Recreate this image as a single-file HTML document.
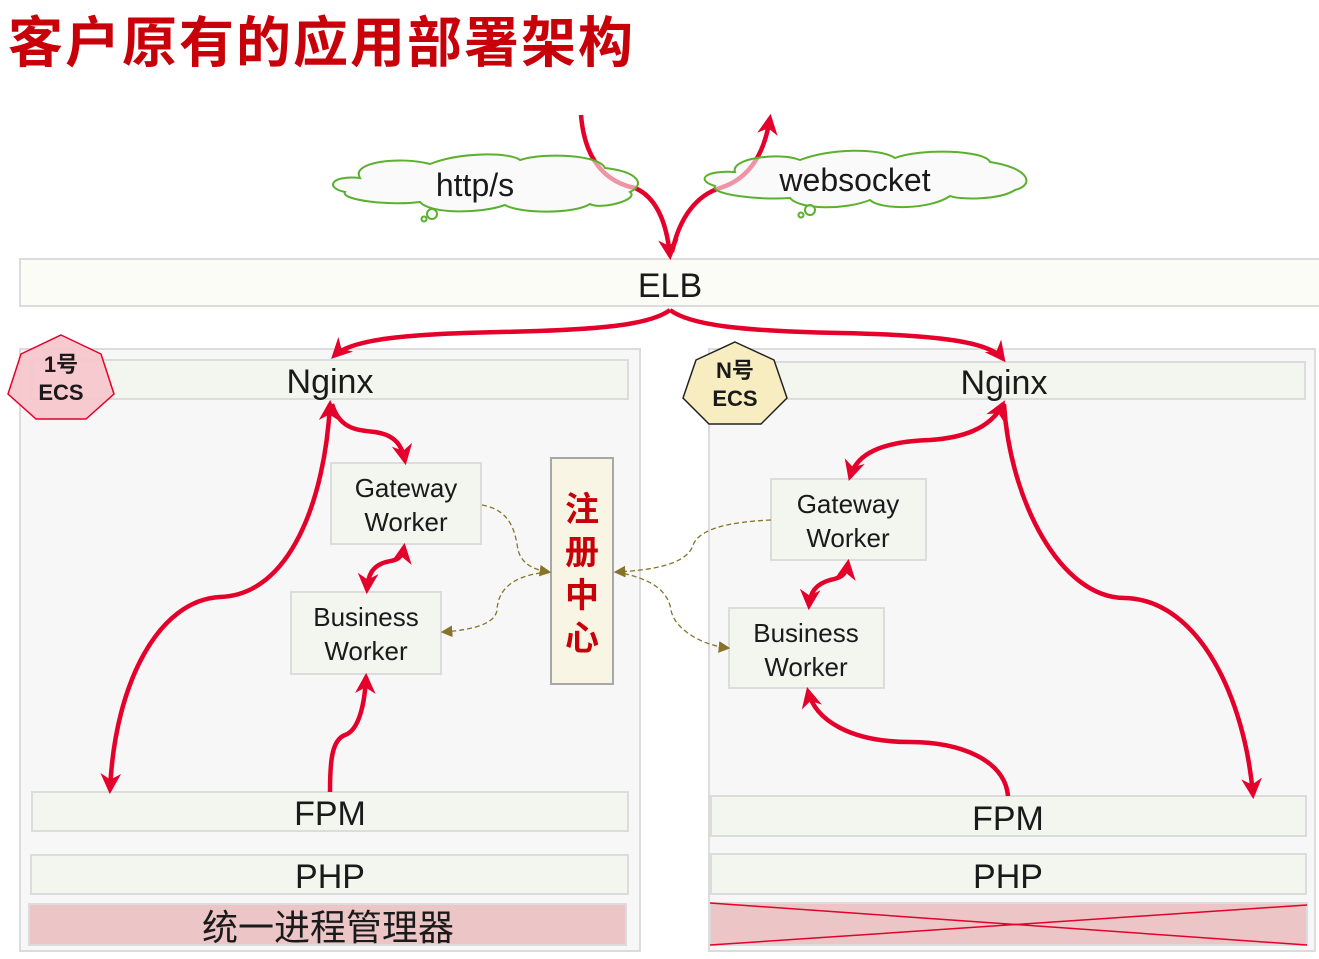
<!DOCTYPE html>
<html><head><meta charset="utf-8"><style>
html,body{margin:0;padding:0;background:#fff;}
svg{display:block;}
text{font-family:"Liberation Sans","Noto Sans CJK SC",sans-serif;fill:#1a1a1a;}
</style></head><body>
<svg width="1319" height="959" viewBox="0 0 1319 959" xmlns="http://www.w3.org/2000/svg">
<defs>
<marker id="ar" viewBox="0 0 10 10" refX="8" refY="5" markerWidth="4.6" markerHeight="4.6" orient="auto-start-reverse" markerUnits="strokeWidth">
<path d="M0,0 L10,5 L0,10 L3,5 Z" fill="#e4002b"/></marker>
<marker id="ad" viewBox="0 0 10 10" refX="8" refY="5" markerWidth="9" markerHeight="9" orient="auto-start-reverse" markerUnits="strokeWidth">
<path d="M0,0 L10,5 L0,10 Z" fill="#85742a"/></marker>
</defs>
<text x="8" y="62" font-size="55" font-weight="bold" letter-spacing="2" style="fill:#c8000a">客户原有的应用部署架构</text>

<rect x="20" y="259" width="1310" height="47" fill="#fafcf5" stroke="#dcdcdc" stroke-width="2"/>
<text x="670" y="297" font-size="34" text-anchor="middle">ELB</text>

<rect x="20" y="349" width="620" height="602" fill="#f7f7f7" stroke="#dcdcdc" stroke-width="2"/>
<rect x="32" y="360" width="596" height="39" fill="#f3f5ef" stroke="#dcdcdc" stroke-width="2"/>
<text x="330" y="393" font-size="34" text-anchor="middle">Nginx</text>
<rect x="331" y="463" width="150" height="81" fill="#f3f5ef" stroke="#dcdcdc" stroke-width="2"/>
<text x="406" y="497" font-size="26" text-anchor="middle">Gateway</text>
<text x="406" y="531" font-size="26" text-anchor="middle">Worker</text>
<rect x="291" y="592" width="150" height="82" fill="#f3f5ef" stroke="#dcdcdc" stroke-width="2"/>
<text x="366" y="626" font-size="26" text-anchor="middle">Business</text>
<text x="366" y="660" font-size="26" text-anchor="middle">Worker</text>
<rect x="32" y="792" width="596" height="39" fill="#f3f5ef" stroke="#dcdcdc" stroke-width="2"/>
<text x="330" y="825" font-size="34" text-anchor="middle">FPM</text>
<rect x="31" y="855" width="597" height="39" fill="#f3f5ef" stroke="#dcdcdc" stroke-width="2"/>
<text x="330" y="888" font-size="34" text-anchor="middle">PHP</text>
<rect x="29" y="904" width="597" height="41" fill="#ecc5c6" stroke="#dcdcdc" stroke-width="2"/>
<text x="328" y="940" font-size="36" text-anchor="middle">统一进程管理器</text>

<rect x="551" y="458" width="62" height="226" fill="#f8f5e4" stroke="#a8a8a8" stroke-width="2"/>
<g font-size="34" font-weight="bold" text-anchor="middle">
<text x="582" y="521" style="fill:#c8000a">注</text>
<text x="582" y="564" style="fill:#c8000a">册</text>
<text x="582" y="607" style="fill:#c8000a">中</text>
<text x="582" y="650" style="fill:#c8000a">心</text>
</g>

<rect x="709" y="349" width="606" height="602" fill="#f7f7f7" stroke="#dcdcdc" stroke-width="2"/>
<rect x="703" y="362" width="602" height="37" fill="#f3f5ef" stroke="#dcdcdc" stroke-width="2"/>
<text x="1004" y="394" font-size="34" text-anchor="middle">Nginx</text>
<rect x="771" y="479" width="155" height="81" fill="#f3f5ef" stroke="#dcdcdc" stroke-width="2"/>
<text x="848" y="513" font-size="26" text-anchor="middle">Gateway</text>
<text x="848" y="547" font-size="26" text-anchor="middle">Worker</text>
<rect x="729" y="608" width="155" height="80" fill="#f3f5ef" stroke="#dcdcdc" stroke-width="2"/>
<text x="806" y="642" font-size="26" text-anchor="middle">Business</text>
<text x="806" y="676" font-size="26" text-anchor="middle">Worker</text>
<rect x="711" y="796" width="595" height="40" fill="#f3f5ef" stroke="#dcdcdc" stroke-width="2"/>
<text x="1008" y="830" font-size="34" text-anchor="middle">FPM</text>
<rect x="711" y="854" width="595" height="40" fill="#f3f5ef" stroke="#dcdcdc" stroke-width="2"/>
<text x="1008" y="888" font-size="34" text-anchor="middle">PHP</text>
<rect x="710" y="903" width="597" height="42" fill="#ecc5c6" stroke="#dcdcdc" stroke-width="2"/>
<line x1="710" y1="903" x2="1307" y2="945" stroke="#e4002b" stroke-width="1.5"/>
<line x1="710" y1="945" x2="1307" y2="905" stroke="#e4002b" stroke-width="1.5"/>

<polygon points="61,335 101,354 114,394 86,419 36,419 8,394 21,354" fill="#f6c5cc" fill-opacity="0.92" stroke="#e4002b" stroke-width="1.5"/>
<text x="61" y="372" font-size="22" font-weight="bold" text-anchor="middle">1号</text>
<text x="61" y="400" font-size="22" font-weight="bold" text-anchor="middle">ECS</text>
<polygon points="735,342 774,360 787,398 761,424 709,424 683,398 696,360" fill="#f8edc0" stroke="#222" stroke-width="1.5"/>
<text x="735" y="378" font-size="22" font-weight="bold" text-anchor="middle">N号</text>
<text x="735" y="406" font-size="22" font-weight="bold" text-anchor="middle">ECS</text>

<g fill="none" stroke="#e4002b" stroke-width="4.5">
<path d="M581,115 C585,165 610,183 635,188 C658,198 667,225 670,256" marker-end="url(#ar)"/>
<path d="M672,252 C680,215 698,195 720,188 C752,178 765,150 770,118" marker-end="url(#ar)"/>
<path d="M670,310 C650,325 600,330 500,332 C400,334 350,340 334,356" marker-end="url(#ar)"/>
<path d="M670,310 C690,325 740,331 840,333 C940,335 990,342 1003,359" marker-end="url(#ar)"/>
<path d="M330,404 C325,500 290,595 220,597 C160,600 115,680 110,790" marker-start="url(#ar)" marker-end="url(#ar)"/>
<path d="M332,404 C340,430 358,430 375,432 C395,435 402,445 405,461" marker-end="url(#ar)"/>
<path d="M404,547 C402,560 395,560 386,562 C372,566 368,575 367,590" marker-start="url(#ar)" marker-end="url(#ar)"/>
<path d="M330,792 C330,760 332,740 345,735 C360,730 365,700 366,677" marker-end="url(#ar)"/>
<path d="M1003,404 C990,430 960,438 930,440 C870,442 855,460 850,477" marker-start="url(#ar)" marker-end="url(#ar)"/>
<path d="M1004,404 C1010,500 1060,598 1125,598 C1200,600 1245,700 1253,795" marker-end="url(#ar)"/>
<path d="M848,563 C846,576 840,578 830,580 C816,584 810,592 809,606" marker-start="url(#ar)" marker-end="url(#ar)"/>
<path d="M1008,796 C1005,760 960,742 910,742 C850,742 815,720 808,691" marker-end="url(#ar)"/>
</g>

<g fill="none" stroke="#85742a" stroke-width="1.3" stroke-dasharray="5,3">
<path d="M482,505 C510,510 515,530 518,550 C522,565 535,570 549,572" marker-end="url(#ad)"/>
<path d="M549,572 C512,575 498,590 497,610 C495,625 470,630 443,632" marker-end="url(#ad)"/>
<path d="M771,520 C730,522 700,528 693,545 C688,562 660,570 616,572" marker-end="url(#ad)"/>
<path d="M616,572 C650,578 668,590 671,610 C674,628 700,645 728,648" marker-end="url(#ad)"/>
</g>

<g fill="#f7f7f7" fill-opacity="0.6" stroke="#5cb030" stroke-width="2">
<path d="M360,178 C350,162 400,156 430,164 C460,152 510,152 520,160 C545,152 600,155 605,168 C640,172 645,185 630,192 C640,200 600,210 590,204 C575,214 520,214 505,205 C480,214 430,214 420,202 C390,206 340,200 345,192 C325,188 330,175 360,178 Z"/>
<path d="M735,172 C730,158 780,152 800,160 C830,148 880,148 895,158 C920,148 985,150 990,162 C1030,168 1035,185 1015,190 C1000,200 960,200 950,196 C930,210 880,210 870,200 C845,210 800,210 790,198 C760,200 710,195 715,186 C695,180 705,170 735,172 Z"/>
<circle cx="432" cy="214" r="5"/><circle cx="424" cy="219" r="2.5"/>
<circle cx="810" cy="210" r="5"/><circle cx="801" cy="215" r="2.5"/>
</g>
<text x="475" y="196" font-size="32" text-anchor="middle">http/s</text>
<text x="855" y="191" font-size="32" text-anchor="middle">websocket</text>
</svg>
</body></html>
